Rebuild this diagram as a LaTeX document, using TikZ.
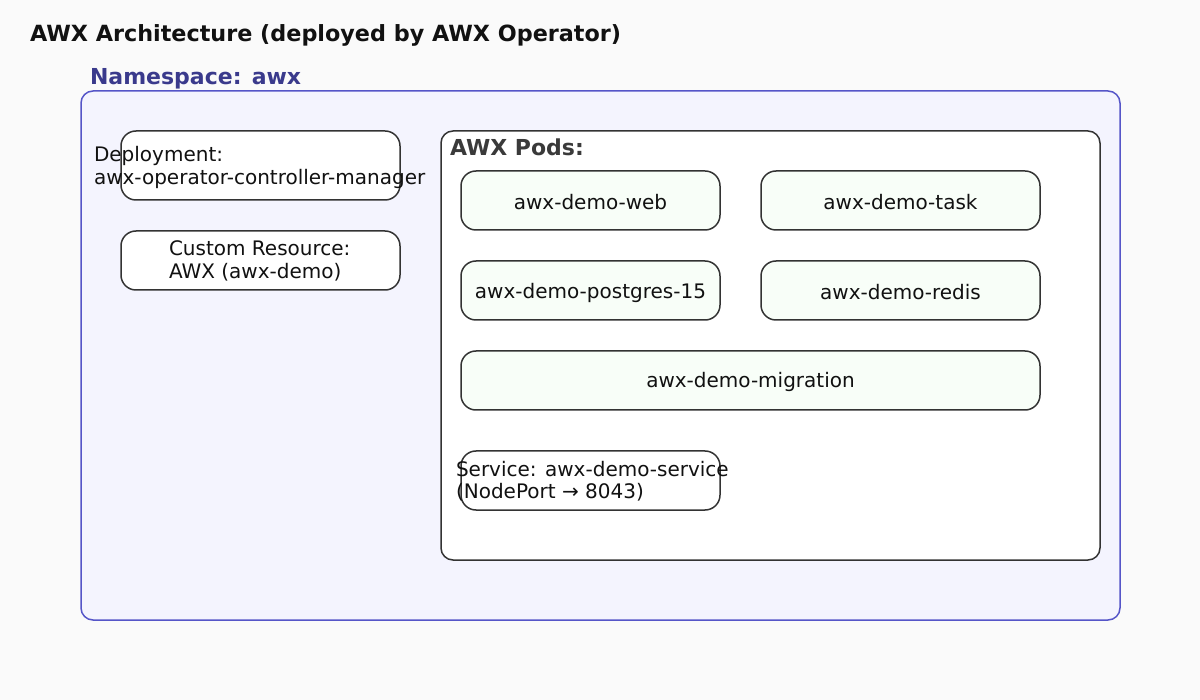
\documentclass[tikz,border=0pt]{standalone}
\usepackage{fontspec}
\setmainfont{DejaVu Sans}
\begin{document}
\begin{tikzpicture}[x=1pt,y=-1pt,
  every node/.style={inner sep=0pt,outer sep=0pt},
  body/.style={font=\fontsize{20}{23}\selectfont,text=txt,align=left},
  heading/.style={font=\fontsize{22}{26}\selectfont\bfseries},
  nsbox/.style={draw=nsline,fill=nsfill,line width=1.5pt,rounded corners=12pt},
  whitebox/.style={draw=boxline,fill=white,line width=1.5pt,rounded corners=15pt},
  podbox/.style={draw=boxline,fill=podfill,line width=1.5pt,rounded corners=15pt},
  podsframe/.style={draw=boxline,fill=white,line width=1.5pt,rounded corners=12pt}]
\definecolor{bg}{HTML}{FAFAFA}
\definecolor{nsfill}{HTML}{F4F4FE}
\definecolor{nsline}{HTML}{5555C8}
\definecolor{nstext}{HTML}{3A3A8C}
\definecolor{boxline}{HTML}{333333}
\definecolor{podfill}{HTML}{F8FEF8}
\definecolor{txt}{HTML}{111111}
\definecolor{podstext}{HTML}{3A3A3A}
\fill[bg] (0,0) rectangle (1200,700);
\useasboundingbox (0,0) rectangle (1200,700);
% title
\node[anchor=base west,font=\fontsize{22.3}{26}\selectfont\bfseries,text=txt] (title) at (30,41.5) {AWX Architecture (deployed by AWX Operator)};
% namespace
\node[anchor=base west,heading,text=nstext] (nslabel) at (90,85) {Namespace: awx};
\draw[nsbox] (81,91) rectangle (1120,620);
% left column
\draw[whitebox] (121,131) rectangle (400,200);
\node[body,anchor=base west] (deploy) at (94,185) {Deployment:\\awx-operator-controller-manager};
\draw[whitebox] (121,231) rectangle (400,290);
\node[body,anchor=base west] (cr) at (169,279) {Custom Resource:\\AWX (awx-demo)};
% pods frame
\draw[podsframe] (441,131) rectangle (1100,560);
\node[anchor=base west,heading,text=podstext] (podslabel) at (450,156) {AWX Pods:};
% pods
\draw[podbox] (461,171) rectangle (720,230);
\node[body,anchor=base] (web) at (590.5,210) {awx-demo-web};
\draw[podbox] (761,171) rectangle (1040,230);
\node[body,anchor=base] (task) at (900.5,210) {awx-demo-task};
\draw[podbox] (461,261) rectangle (720,320);
\node[body,anchor=base] (pg) at (590.5,298.5) {awx-demo-postgres-15};
\draw[podbox] (761,261) rectangle (1040,320);
\node[body,anchor=base] (redis) at (900.5,299.5) {awx-demo-redis};
\draw[podbox] (461,351) rectangle (1040,410);
\node[body,anchor=base] (mig) at (750.5,388) {awx-demo-migration};
% service
\draw[whitebox] (461,451) rectangle (720,510);
\node[body,anchor=base west] (svc) at (456,499) {Service: awx-demo-service\\(NodePort → 8043)};
\end{tikzpicture}
\end{document}
